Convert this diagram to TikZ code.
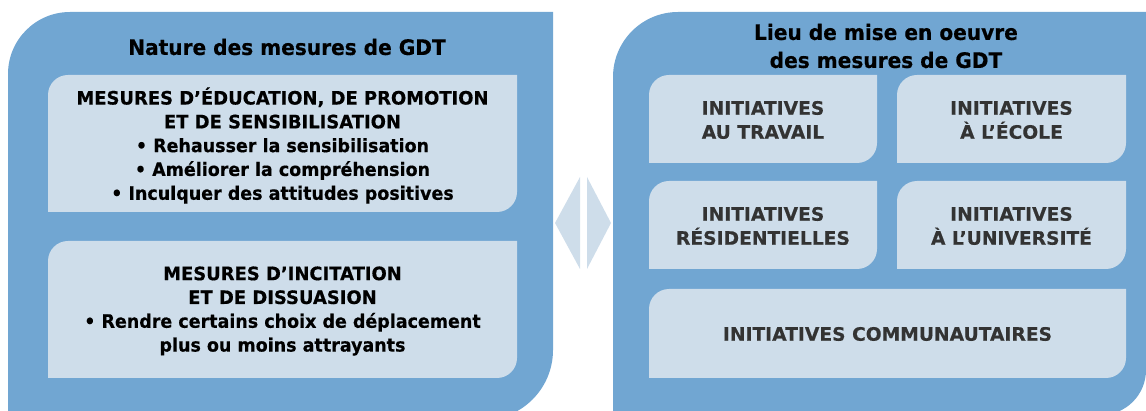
\documentclass[tikz,border=0pt]{standalone}
\usepackage{fontspec}
\setmainfont{DejaVu Sans}
% faces for capital headings, place labels and mixed-case lines
\newfontfamily\capsfont{DejaVu Sans}[FakeStretch=0.97, FakeBold=0.4]
\newfontfamily\placefont{DejaVu Sans}[FakeStretch=1.01, FakeBold=0.4]
\newfontfamily\mixfont{DejaVu Sans}[FakeStretch=0.945, FakeBold=0.4]
\definecolor{panelblue}{HTML}{71A6D2}
\definecolor{boxblue}{HTML}{CEDDEA}
\definecolor{darktext}{HTML}{333333}

% Rectangle with rounded top-left (radius #5) and bottom-right (radius #6) corners;
% (#1,#2) is the top-left point, (#3,#4) the bottom-right point, y grows downwards.
\newcommand{\tlbrshape}[7]{%
  \fill[#7] (#1,#4) -- ({#1},{#2+#5})
    .. controls ({#1},{#2+0.4477*#5}) and ({#1+0.4477*#5},{#2}) .. ({#1+#5},{#2})
    -- (#3,#2) -- ({#3},{#4-#6})
    .. controls ({#3},{#4-0.4477*#6}) and ({#3-0.4477*#6},{#4}) .. ({#3-#6},{#4})
    -- cycle;}
\newcommand{\capl}[1]{{\capsfont #1}}
\newcommand{\mixl}[1]{{\mixfont #1}}

\tikzset{
  paneltitle/.style={font=\mixfont\bfseries\fontsize{21.3}{28}\selectfont, text=black, align=center, inner sep=0pt},
  measuretext/.style={font=\bfseries\fontsize{18.5}{23.8}\selectfont, text=black, align=center, inner sep=0pt},
  placetext/.style={font=\placefont\bfseries\fontsize{18.5}{24}\selectfont, text=darktext, align=center, inner sep=0pt},
}

\begin{document}
\begin{tikzpicture}[x=1pt,y=-1pt]
  \useasboundingbox (0,0) rectangle (1146,411);
  \clip (0,0) rectangle (1146,411);

  % outer panels
  \tlbrshape{8}{12}{553}{420}{62}{70}{panelblue}
  \tlbrshape{613}{12}{1146}{415}{65}{45}{panelblue}

  % measure boxes
  \tlbrshape{48}{75}{517}{212}{20}{20}{boxblue}
  \tlbrshape{48}{241}{517}{378}{20}{20}{boxblue}

  % place boxes
  \tlbrshape{649}{75}{877}{163}{20}{20}{boxblue}
  \tlbrshape{897}{75}{1126}{163}{20}{20}{boxblue}
  \tlbrshape{649}{181}{877}{269}{20}{20}{boxblue}
  \tlbrshape{897}{181}{1126}{269}{20}{20}{boxblue}
  \tlbrshape{649}{289}{1126}{378}{20}{20}{boxblue}

  % two-way link between the panels
  \fill[boxblue] (555,223) -- (580,177) -- (580,269) -- cycle;
  \fill[boxblue] (587,177) -- (611,223) -- (587,269) -- cycle;

  % texts
  \node[paneltitle] (natTitle) at (287,47) {Nature des mesures de GDT};
  \node[paneltitle] (lieuTitle) at (886,46) {Lieu de mise en oeuvre\\des mesures de GDT};

  \node[measuretext] (educ) at (282.5,145.5) {\capl{MESURES D’ÉDUCATION, DE PROMOTION}\\\capl{ET DE SENSIBILISATION}\\\mixl{• Rehausser la sensibilisation}\\\mixl{• Améliorer la compréhension}\\\mixl{• Inculquer des attitudes positives}};
  \node[measuretext] (incit) at (282.5,311) {\capl{MESURES D’INCITATION}\\\capl{ET DE DISSUASION}\\\mixl{• Rendre certains choix de déplacement}\\\mixl{plus ou moins attrayants}};

  \node[placetext] (travail) at (763,120) {INITIATIVES\\AU TRAVAIL};
  \node[placetext] (ecole) at (1011.5,120) {INITIATIVES\\À L’ÉCOLE};
  \node[placetext] (resid) at (763,226) {INITIATIVES\\RÉSIDENTIELLES};
  \node[placetext] (univ) at (1011.5,226) {INITIATIVES\\À L’UNIVERSITÉ};
  \node[placetext] (commun) at (887.5,334) {INITIATIVES COMMUNAUTAIRES};
\end{tikzpicture}
\end{document}
